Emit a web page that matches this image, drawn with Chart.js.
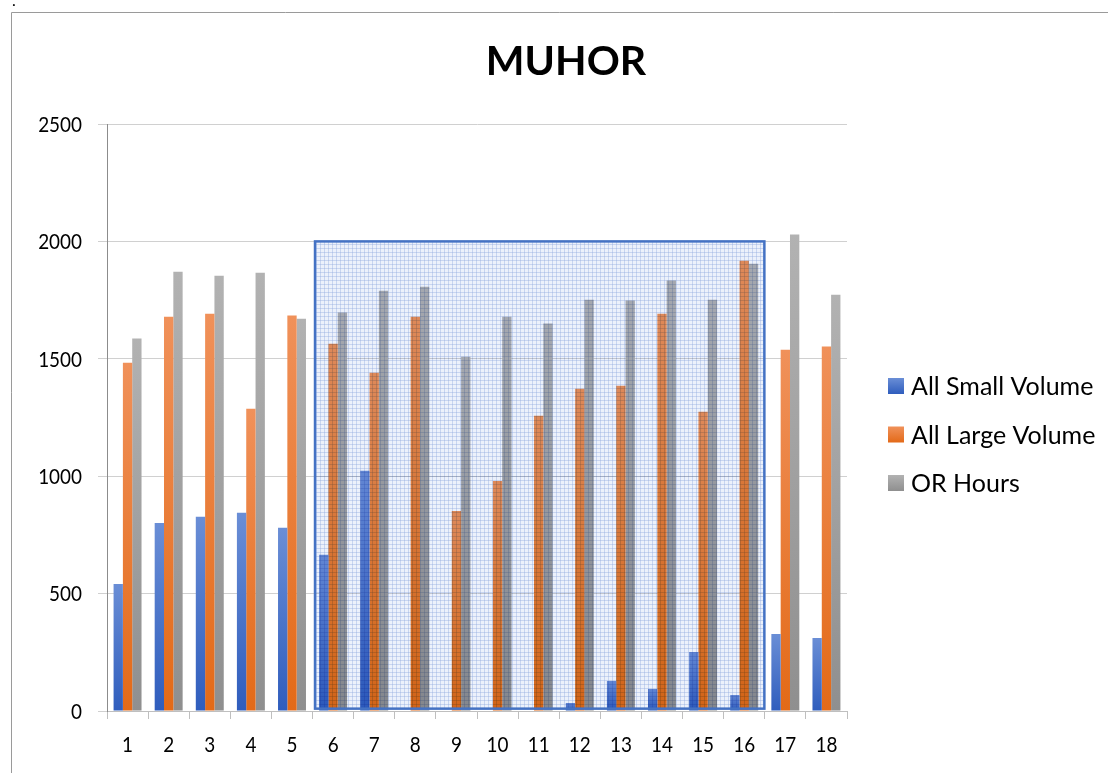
<!DOCTYPE html>
<html><head><meta charset="utf-8">
<script src="https://cdn.jsdelivr.net/npm/chart.js@4.4.0/dist/chart.umd.min.js"></script>
<style>html,body{margin:0;padding:0;background:#fff;overflow:hidden}#wrap{width:1108px;height:773px;position:relative}</style>
</head><body><div id="wrap"><canvas id="c" width="1108" height="773"></canvas></div>
<script>
const categories = ['1','2','3','4','5','6','7','8','9','10','11','12','13','14','15','16','17','18'];
const smallVolume = [541, 801, 827, 844, 780, 665, 1023, 0, 0, 0, 0, 34, 128, 94, 251, 68, 328, 311];
const largeVolume = [1483, 1679, 1692, 1287, 1684, 1564, 1441, 1679, 852, 980, 1257, 1372, 1385, 1692, 1274, 1918, 1539, 1552];
const orHours = [1586, 1871, 1854, 1867, 1671, 1697, 1790, 1807, 1509, 1679, 1650, 1752, 1748, 1833, 1752, 1905, 2029, 1773];
const seriesNames = ['All Small Volume', 'All Large Volume', 'OR Hours'];
const chartTitle = 'MUHOR';
const yMin = 0, yMax = 2500, yStep = 500;
const highlight = { fromIndex: 4.56, toIndex: 15.49, top: 2000, bottom: 10 };

const titleStyle = { x: 566, y: 62, font: 'bold 41px Lato' };
const tickStyle = { font: '21px Lato', squeeze: 0.9, yRight: 82, xCenterY: 745 };
const legendStyle = { x: 888, y: 378, gap: 48.5, box: 16, textX: 911, font: '25px Lato' };
const palette = [
  { light: '#6a8ed6', dark: '#2f5dbd', solid: '#4472C4' },
  { light: '#f0915a', dark: '#e36a18', solid: '#ED7D31' },
  { light: '#b2b2b2', dark: '#8f8f8f', solid: '#A5A5A5' }
];

function barGradient(p) {
  return (ctx) => {
    const chart = ctx.chart;
    if (!chart.chartArea || ctx.type !== 'data') return p.solid;
    const y = chart.scales.y;
    const v = ctx.parsed ? ctx.parsed.y : ctx.raw;
    const top = y.getPixelForValue(v), bottom = y.getPixelForValue(0);
    if (!isFinite(top) || Math.abs(bottom - top) < 1) return p.solid;
    const g = chart.ctx.createLinearGradient(0, top, 0, bottom);
    g.addColorStop(0, p.light); g.addColorStop(1, p.dark);
    return g;
  };
}

function makePattern(ctx) {
  const c = document.createElement('canvas'); c.width = 4; c.height = 4;
  const p = c.getContext('2d');
  p.fillStyle = 'rgb(236,241,251)'; p.fillRect(0, 0, 4, 4);
  p.fillStyle = 'rgb(200,213,240)';
  p.fillRect(0, 0, 4, 1); p.fillRect(0, 1, 1, 3);
  p.fillStyle = 'rgb(178,196,232)';
  p.fillRect(0, 0, 1, 1);
  return ctx.createPattern(c, 'repeat');
}

const framePlugin = {
  id: 'frame',
  beforeDraw(chart) {
    const c = chart.ctx;
    c.save();
    c.fillStyle = '#fff'; c.fillRect(0, 0, chart.width, chart.height);
    c.strokeStyle = '#9a9a9a'; c.lineWidth = 1;
    c.beginPath();
    c.moveTo(11.5, chart.height); c.lineTo(11.5, 12.5); c.lineTo(chart.width, 12.5);
    c.stroke();
    c.fillStyle = '#000'; c.font = '16px Lato';
    c.fillText('.', 12, 6);
    c.restore();
  }
};

const highlightPlugin = {
  id: 'highlight',
  afterDatasetsDraw(chart) {
    const x = chart.scales.x, y = chart.scales.y, c = chart.ctx;
    const l = x.getPixelForValue(highlight.fromIndex), r = x.getPixelForValue(highlight.toIndex);
    const t = y.getPixelForValue(highlight.top), b = y.getPixelForValue(highlight.bottom);
    c.save();
    c.globalCompositeOperation = 'multiply';
    c.fillStyle = makePattern(c);
    c.fillRect(l, t, r - l, b - t);
    c.globalCompositeOperation = 'source-over';
    c.strokeStyle = '#4472C4'; c.lineWidth = 2.5;
    c.strokeRect(l, t, r - l, b - t);
    c.restore();
  }
};

const textPlugin = {
  id: 'texts',
  afterDraw(chart) {
    const c = chart.ctx, x = chart.scales.x, y = chart.scales.y;
    c.save();
    c.fillStyle = '#000';
    c.font = titleStyle.font; c.textAlign = 'center'; c.textBaseline = 'middle';
    c.fillText(chartTitle, titleStyle.x, titleStyle.y);
    c.font = tickStyle.font;
    y.ticks.forEach((t) => {
      c.save();
      c.translate(tickStyle.yRight, y.getPixelForValue(t.value));
      c.scale(tickStyle.squeeze, 1);
      c.textAlign = 'right'; c.textBaseline = 'middle';
      c.fillText(String(t.value), 0, 1);
      c.restore();
    });
    categories.forEach((lab, i) => {
      c.save();
      c.translate(x.getPixelForValue(i), tickStyle.xCenterY);
      c.scale(tickStyle.squeeze, 1);
      c.textAlign = 'center'; c.textBaseline = 'middle';
      c.fillText(lab, 0, 0);
      c.restore();
    });
    const s = legendStyle;
    c.font = s.font; c.textBaseline = 'middle'; c.textAlign = 'left';
    chart.data.datasets.forEach((ds, i) => {
      const cy = s.y + i * s.gap + s.box / 2;
      const g = c.createLinearGradient(0, cy - s.box / 2, 0, cy + s.box / 2);
      g.addColorStop(0, palette[i].light); g.addColorStop(1, palette[i].dark);
      c.fillStyle = g;
      c.fillRect(s.x, cy - s.box / 2, s.box, s.box);
      c.fillStyle = '#000';
      c.fillText(ds.label, s.textX, cy + 1);
    });
    c.restore();
  }
};

new Chart(document.getElementById('c'), {
  type: 'bar',
  data: {
    labels: categories,
    datasets: seriesNames.map((name, i) => ({
      label: name,
      data: [smallVolume, largeVolume, orHours][i],
      backgroundColor: barGradient(palette[i])
    }))
  },
  options: {
    responsive: false,
    animation: false,
    devicePixelRatio: 1,
    datasets: { bar: { categoryPercentage: 0.68, barPercentage: 1.0 } },
    layout: { padding: { top: 124, left: 12, right: 261, bottom: 0 } },
    plugins: {
      tooltip: { enabled: false },
      legend: { display: false },
      title: { display: false }
    },
    scales: {
      x: {
        afterFit(scale) { scale.height = 62; },
        grid: { display: true, drawOnChartArea: false, offset: true, color: '#bfbfbf', tickLength: 8 },
        border: { display: true, color: '#bfbfbf' },
        ticks: { display: false }
      },
      y: {
        min: yMin, max: yMax,
        afterFit(scale) { scale.width = 95; },
        grid: { color: '#d0d0d0', tickLength: 9 },
        border: { display: true, color: '#8c8c8c' },
        ticks: { display: false, stepSize: yStep }
      }
    }
  },
  plugins: [framePlugin, highlightPlugin, textPlugin]
});
</script></body></html>
